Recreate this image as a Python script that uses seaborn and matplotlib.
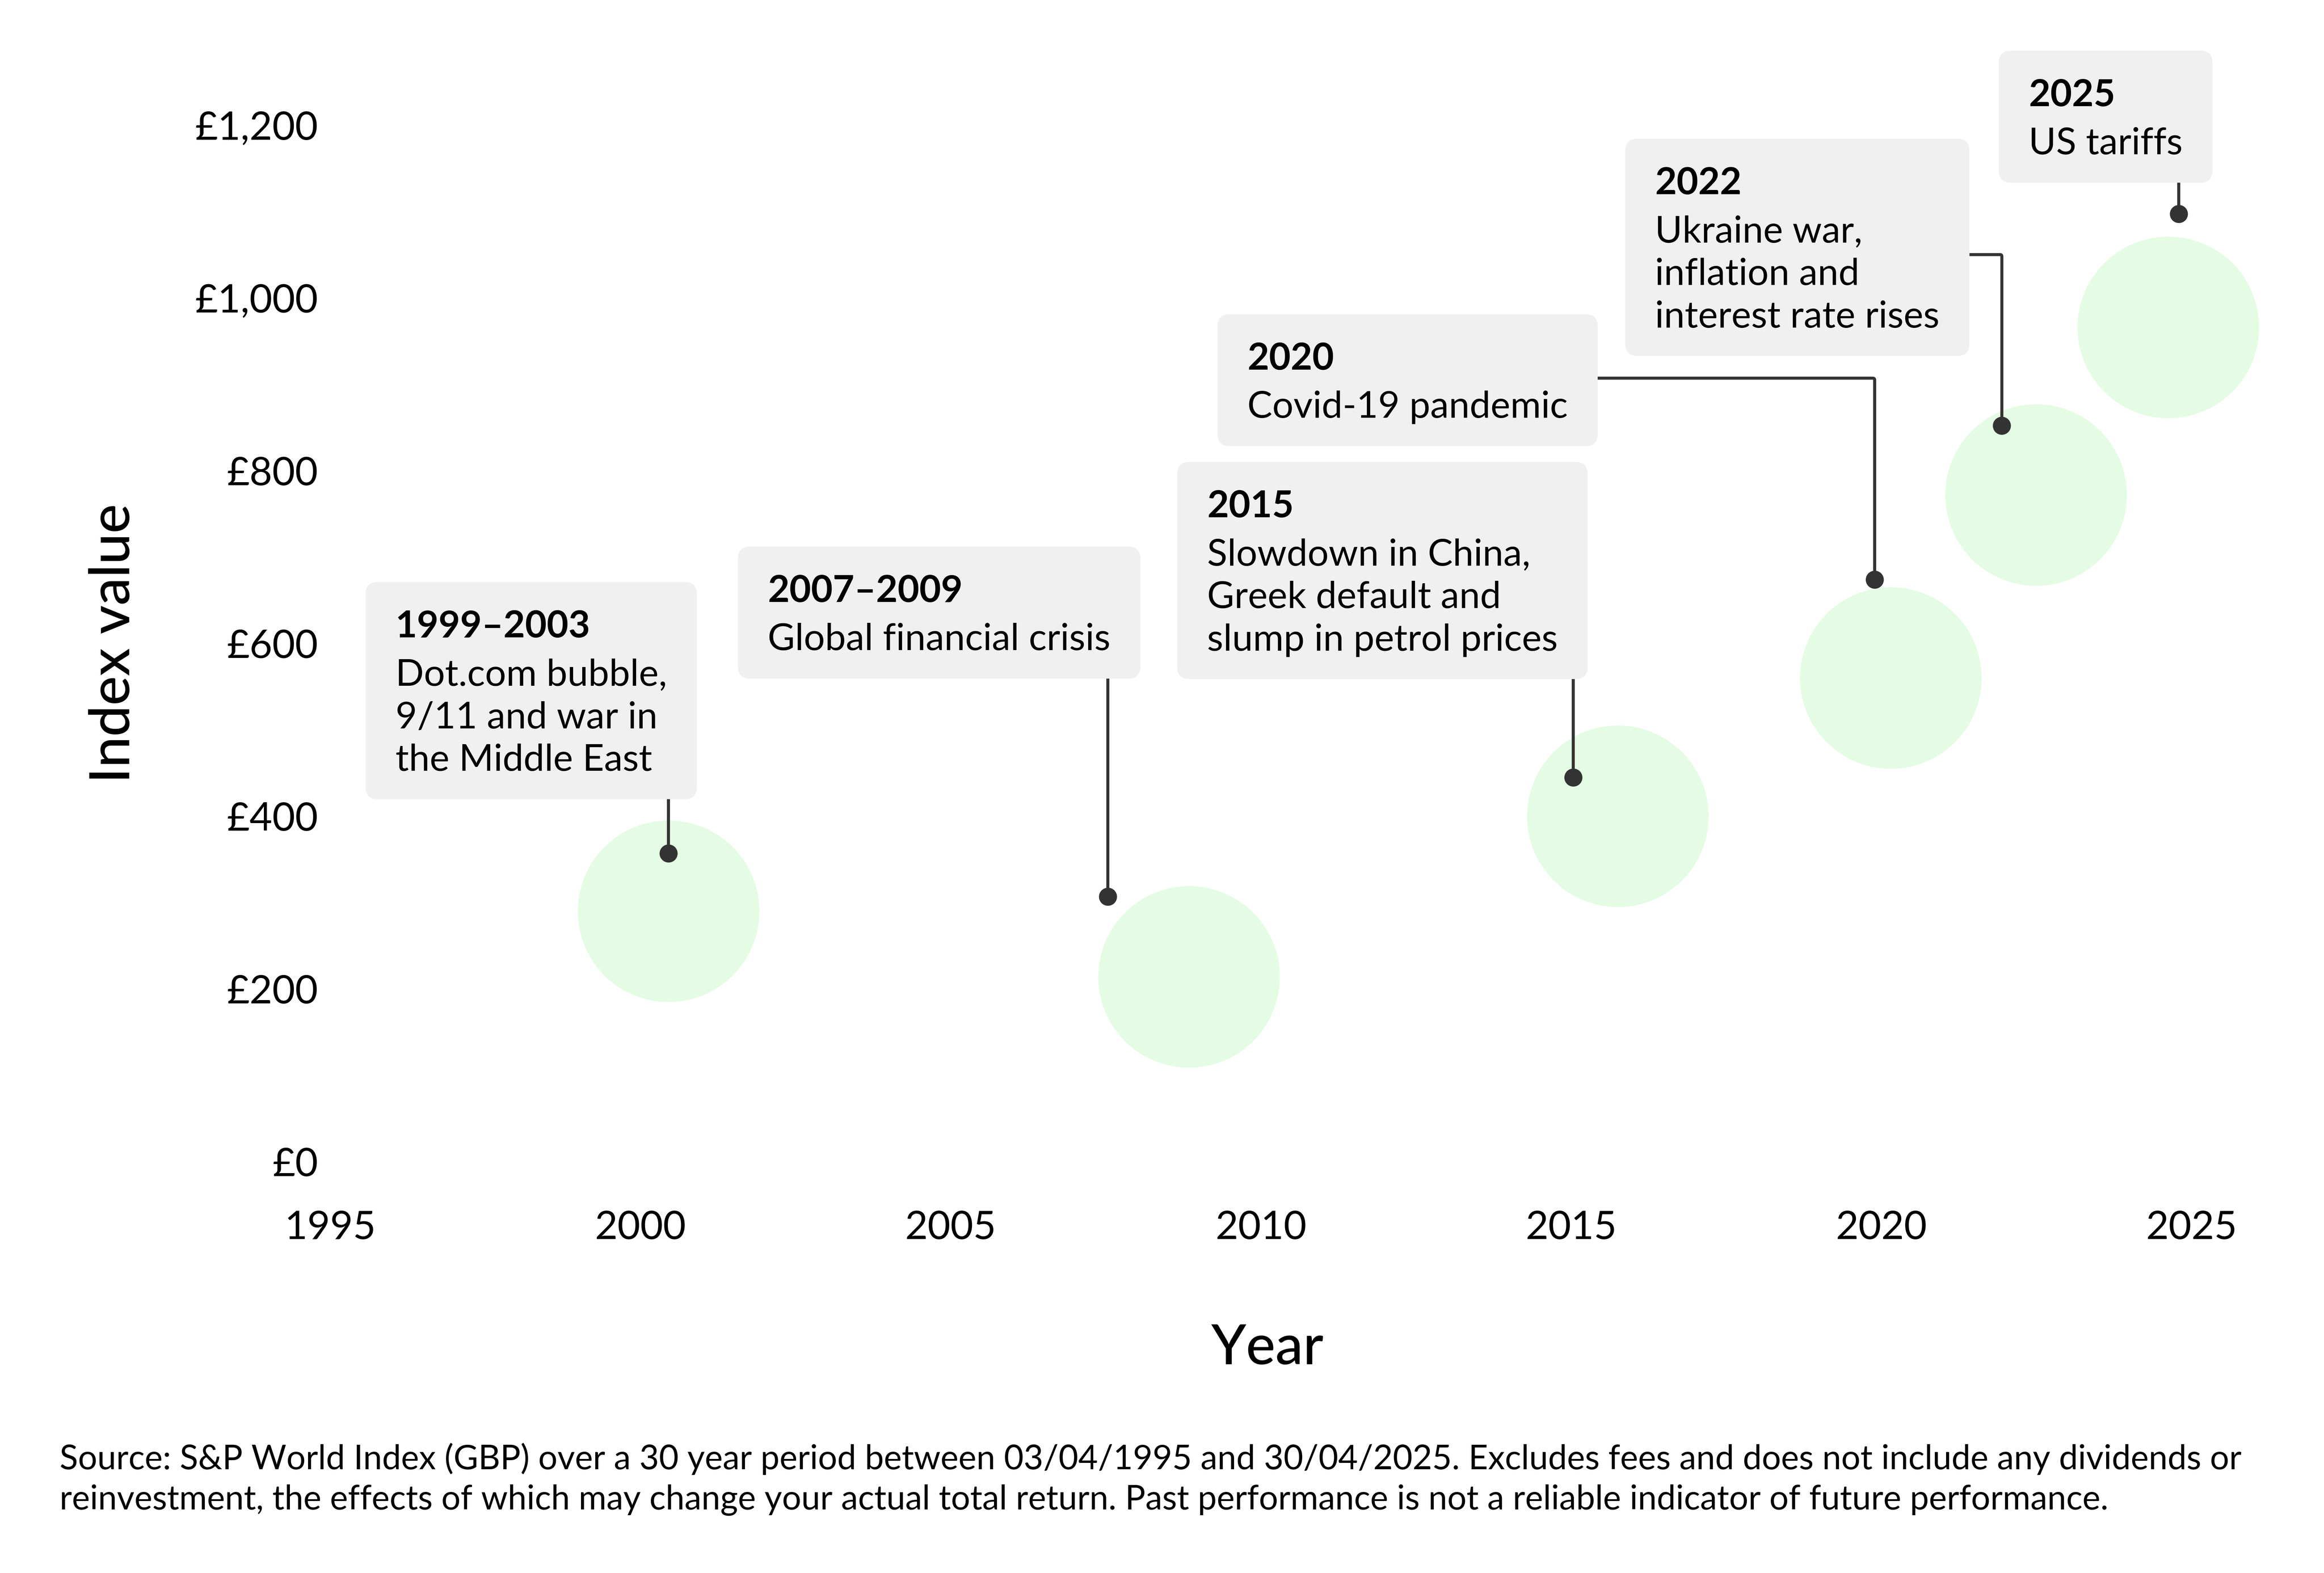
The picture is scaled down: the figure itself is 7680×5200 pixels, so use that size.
import numpy as np
import matplotlib.pyplot as plt
import seaborn as sns
import pandas as pd
from matplotlib.patches import FancyBboxPatch

# green bubbles
circle_years = [2000.45, 2008.84, 2015.75, 2020.15, 2022.49, 2024.62]
circle_values = [290, 214, 400, 560, 772, 966]

# events: dot position on the chart
event_titles = ["1999–2003", "2007–2009", "2015", "2020", "2022", "2025"]
event_texts = [
    "Dot.com bubble,\n9/11 and war in\nthe Middle East",
    "Global financial crisis",
    "Slowdown in China,\nGreek default and\nslump in petrol prices",
    "Covid-19 pandemic",
    "Ukraine war,\ninflation and\ninterest rate rises",
    "US tariffs",
]
event_years = [2000.45, 2007.53, 2015.03, 2019.89, 2021.94, 2024.79]
event_values = [357, 307, 445, 674, 852, 1097]

# top-left corner of each label box (year, value)
label_years = [1995.57, 2001.57, 2008.65, 2009.30, 2015.87, 2021.89]
label_values = [671, 712, 810, 981, 1184, 1286]
# horizontal level of elbow connectors (None = straight down)
elbow_values = [None, None, None, 907, 1050, None]

y_ticks = [0, 200, 400, 600, 800, 1000, 1200]
x_ticks = [1995, 2000, 2005, 2010, 2015, 2020, 2025]

source_note = ("Source: S&P World Index (GBP) over a 30 year period between 03/04/1995 and 30/04/2025. "
               "Excludes fees and does not include any dividends or\nreinvestment, the effects of which may "
               "change your actual total return. Past performance is not a reliable indicator of future performance.")

sns.set_theme(style="white")
plt.rcParams["font.family"] = ["Lato", "DejaVu Sans"]

DPI = 480  # keeps the png just under 40 Mpx
fig = plt.figure(figsize=(16, 10.834), dpi=DPI)
ax = fig.add_axes([0.1421, 0.2614, 0.8357, 0.714])

line_col = "#333333"
box_col = "#F0F0F0"

df_circles = pd.DataFrame({"year": circle_years, "value": circle_values})
sns.scatterplot(data=df_circles, x="year", y="value", s=8100, color="#E4FCE3",
                linewidth=0, ax=ax, zorder=1)

df_events = pd.DataFrame({"year": event_years, "value": event_values})
sns.scatterplot(data=df_events, x="year", y="value", s=80, color=line_col,
                linewidth=0, ax=ax, zorder=6)

# connectors
for i in range(len(event_titles)):
    if elbow_values[i] is None:
        ax.plot([event_years[i], event_years[i]], [event_values[i], label_values[i] - 30],
                color=line_col, lw=1.5, zorder=2, solid_capstyle="butt")
    else:
        ax.annotate("", xy=(event_years[i], event_values[i]),
                    xytext=(label_years[i] + 1, elbow_values[i]),
                    arrowprops=dict(arrowstyle="-", color=line_col, lw=1.5,
                                    shrinkA=0, shrinkB=0,
                                    connectionstyle="angle,angleA=0,angleB=90,rad=6"),
                    zorder=2)

ax.set_xlim(1995, 2026.3)
ax.set_ylim(0, 1300)
ax.set_xticks(x_ticks)
ax.set_xticklabels([str(x) for x in x_ticks])
ax.set_yticks(y_ticks)
ax.set_yticklabels([f"£{v:,}" for v in y_ticks])
ax.tick_params(axis="x", length=0, pad=24, labelsize=19.5, colors="black")
ax.tick_params(axis="y", length=0, pad=6, labelsize=19.5, colors="black")
sns.despine(ax=ax, left=True, bottom=True)

ax.set_xlabel("Year", fontsize=27.5, fontweight="medium", color="black")
ax.set_ylabel("Index value", fontsize=27.5, fontweight="medium", color="black")
ax.xaxis.label.set_va("center")
ax.yaxis.label.set_va("center")
ax.xaxis.set_label_coords(0.4825, -0.166)
ax.yaxis.set_label_coords(-0.1115, 0.4616)

# label texts: bold title line + regular body
pad = 14.8  # points
titles, bodies = [], []
for i in range(len(event_titles)):
    t = ax.annotate(event_titles[i], xy=(label_years[i], label_values[i]),
                    xytext=(pad, -pad + 1), textcoords="offset points",
                    ha="left", va="top", fontsize=18.5, fontweight="bold",
                    color="black", zorder=5)
    b = ax.annotate(event_texts[i], xy=(label_years[i], label_values[i]),
                    xytext=(pad, -pad - 23.0), textcoords="offset points",
                    ha="left", va="top", fontsize=18.5, linespacing=1.33,
                    color="black", zorder=5)
    titles.append(t)
    bodies.append(b)

# grey rounded boxes sized to the rendered text
fig.canvas.draw()
renderer = fig.canvas.get_renderer()
px = DPI / 72.0
for i in range(len(event_titles)):
    x0, y_top = ax.transData.transform((label_years[i], label_values[i]))
    bb_t = titles[i].get_window_extent(renderer)
    bb_b = bodies[i].get_window_extent(renderer)
    right = max(bb_t.x1, bb_b.x1) + pad * px
    bottom = bb_b.y0 - 11 * px
    box = FancyBboxPatch((x0, bottom), right - x0, y_top - bottom,
                         boxstyle=f"round,pad=0,rounding_size={6 * px}",
                         facecolor=box_col, edgecolor="none",
                         transform=None, zorder=3, clip_on=False)
    ax.add_patch(box)

fig.text(0.0256, 0.0828, source_note, ha="left", va="top", fontsize=16.8,
         linespacing=1.37, color="black")

fig.savefig("out.png", dpi=DPI, facecolor="white")
